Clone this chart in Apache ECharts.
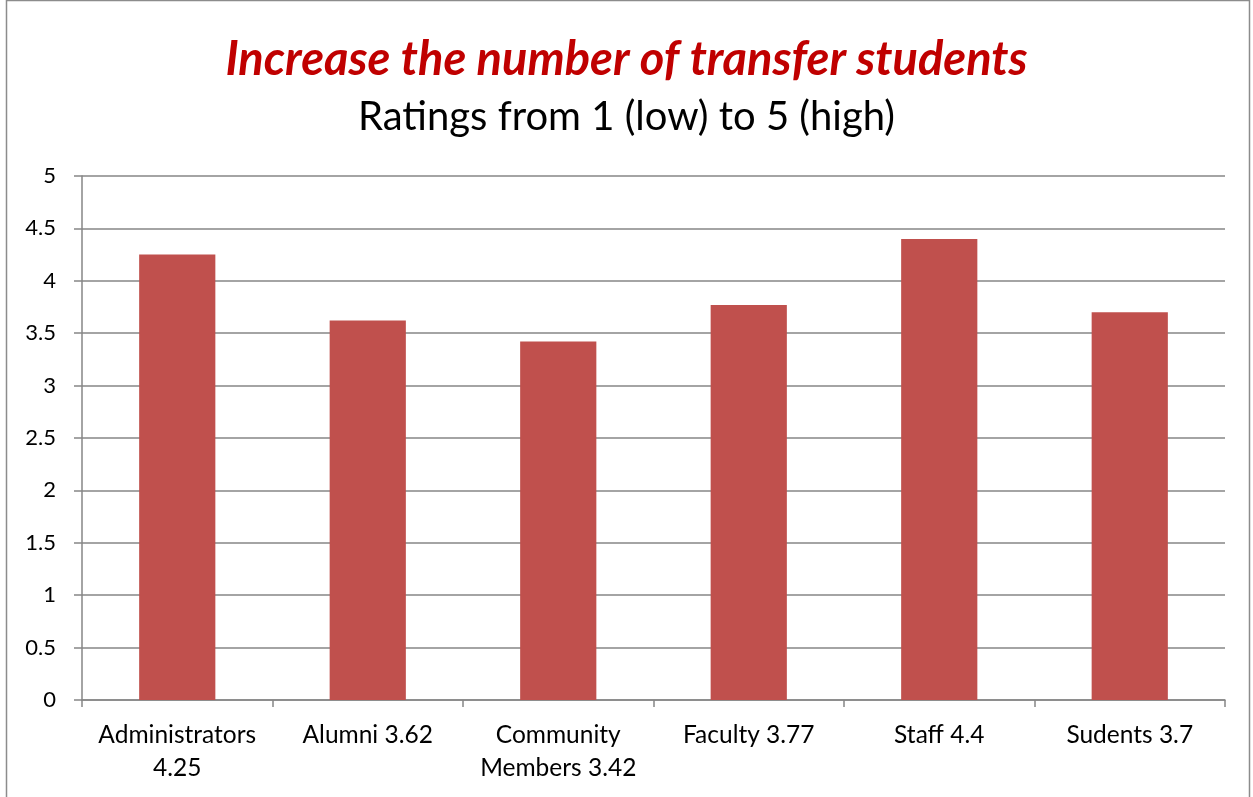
<!DOCTYPE html>
<html>
<head>
<meta charset="utf-8">
<script src="https://cdn.jsdelivr.net/npm/echarts@6/dist/echarts.min.js"></script>
<style>
  html, body { margin: 0; padding: 0; background: #fff; }
  #chart { width: 1253px; height: 797px; }
</style>
</head>
<body>
<div id="chart"></div>
<script>
// data
const groups = ['Administrators', 'Alumni', 'Community Members', 'Faculty', 'Staff', 'Sudents']
const ratings = [4.25, 3.62, 3.42, 3.77, 4.4, 3.7]
const tickLabels = ['Administrators\n4.25', 'Alumni 3.62', 'Community\nMembers 3.42', 'Faculty 3.77', 'Staff 4.4', 'Sudents 3.7']

const font = 'Lato, "Open Sans", sans-serif'
const chart = echarts.init(document.getElementById('chart'))

chart.setOption({
  animation: false,
  backgroundColor: '#fff',
  graphic: [{
    type: 'rect',
    shape: { x: 6.5, y: 0.5, width: 1243, height: 820 },
    style: { fill: 'none', stroke: '#8c8c8c', lineWidth: 1.5 }
  }],
  title: [
    {
      text: 'Increase the number of transfer students',
      left: 'center',
      top: 31,
      textStyle: { color: '#C00000', fontSize: 47, fontWeight: 'bold', fontStyle: 'italic', fontFamily: font }
    },
    {
      text: 'Ratings from 1 (low) to 5 (high)',
      left: 'center',
      top: 92,
      textStyle: { color: '#000', fontSize: 40, fontWeight: 'normal', fontFamily: font }
    }
  ],
  grid: { left: 82, right: 28, top: 176, bottom: 97 },
  xAxis: {
    type: 'category',
    data: tickLabels,
    axisLine: { lineStyle: { color: '#868686', width: 1.5 } },
    axisTick: { show: true, length: 7, lineStyle: { color: '#868686', width: 1.5 } },
    axisLabel: { color: '#000', fontSize: 24.5, fontFamily: font, margin: 19, lineHeight: 33, interval: 0 }
  },
  yAxis: {
    type: 'value',
    min: 0,
    max: 5,
    interval: 0.5,
    axisLine: { show: true, lineStyle: { color: '#868686', width: 1.5 } },
    axisTick: { show: true, length: 8, lineStyle: { color: '#868686', width: 1.5 } },
    splitLine: { lineStyle: { color: '#868686', width: 1.5 } },
    axisLabel: { color: '#000', fontSize: 22, fontFamily: font, margin: 26 }
  },
  series: [{
    name: 'Rating',
    type: 'bar',
    data: ratings.map((v, i) => ({ name: groups[i], value: v })),
    barWidth: '40%',
    itemStyle: { color: '#C0504D' }
  }]
})
</script>
</body>
</html>
